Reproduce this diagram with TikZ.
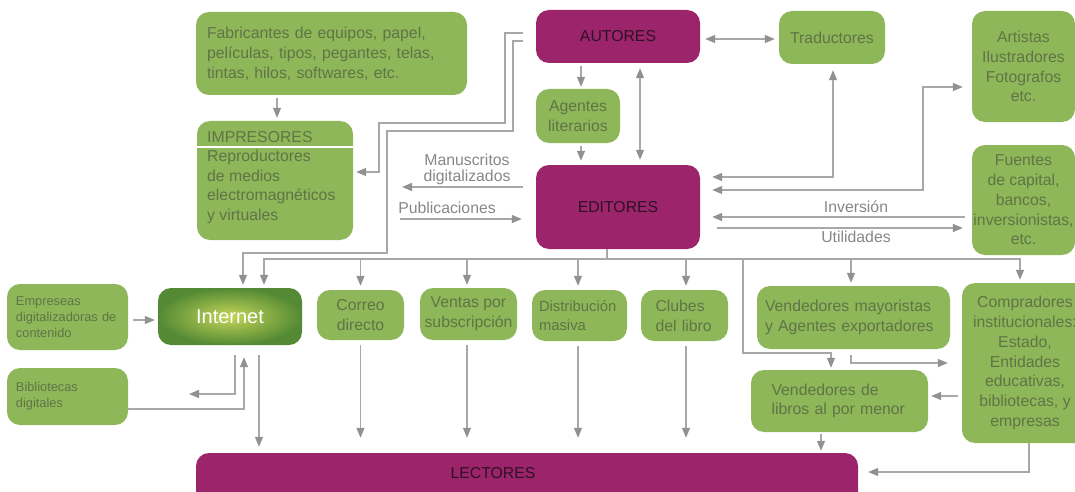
\documentclass[tikz,border=0pt]{standalone}
\usepackage{fontspec}
\setmainfont{Liberation Sans}
\usetikzlibrary{arrows.meta,calc}
\definecolor{grn}{RGB}{141,183,88}
\definecolor{pur}{RGB}{155,36,106}
\definecolor{gtxt}{RGB}{96,116,70}
\definecolor{ptxt}{RGB}{45,18,38}
\definecolor{arrc}{RGB}{168,168,168}
\definecolor{arrt}{RGB}{145,145,145}
\definecolor{lblc}{RGB}{135,135,135}
\definecolor{intin}{RGB}{196,214,88}
\definecolor{intout}{RGB}{84,138,52}
\newcommand\mainfs{\fontsize{15.8}{19.8}\selectfont}
\newcommand\smallfs{\fontsize{12.8}{15.8}\selectfont}
\begin{document}
\begin{tikzpicture}[x=1pt,y=-1pt,
 box/.style={rounded corners=13pt, inner sep=0pt, font=\mainfs, align=center},
 gbox/.style={box, fill=grn, text=gtxt},
 pbox/.style={box, fill=pur, text=ptxt},
 lbl/.style={font=\mainfs, text=lblc, inner sep=0pt, align=center},
 cline/.style={draw=arrc, line width=1.3pt},
 arr/.style={cline, -{Triangle[length=10pt,width=8pt,color=arrt]}, shorten >=4pt, shorten <=4pt},
 darr/.style={cline, {Triangle[length=10pt,width=8pt,color=arrt]}-{Triangle[length=10pt,width=8pt,color=arrt]}, shorten >=4pt, shorten <=4pt},
]
\useasboundingbox (0,0) rectangle (1075,492);
% boxes
\node[gbox, minimum width=271pt, minimum height=83pt, text width=249pt, align=left] (fab) at (331.5,53.5) {Fabricantes de equipos, papel,\\películas, tipos, pegantes, telas,\\tintas, hilos, softwares, etc.};
\node[pbox, minimum width=164pt, minimum height=53pt] (aut) at (618,36.5) {AUTORES};
\node[gbox, minimum width=106pt, minimum height=53pt] (trad) at (832,37.5) {Traductores};
\node[gbox, minimum width=103pt, minimum height=111pt] (art) at (1023.5,66.5) {Artistas\\Ilustradores\\Fotografos\\etc.};
\node[gbox, minimum width=84pt, minimum height=54pt] (age) at (578,116) {Agentes\\literarios};
\node[gbox, minimum width=156pt, minimum height=119pt] (imp) at (275,180.5) {};
\node[font=\mainfs, text=gtxt, anchor=west, inner sep=0pt] (impT) at (207,137) {IMPRESORES};
\draw[white, line width=1.3pt] (197,147) -- (353,147);
\node[font=\mainfs, text=gtxt, anchor=west, inner sep=0pt, align=left] (impD) at (207,187) {Reproductores\\de medios\\electromagnéticos\\y virtuales};
\node[pbox, minimum width=164pt, minimum height=84pt] (edi) at (618,207) {EDITORES};
\node[gbox, minimum width=103pt, minimum height=110pt] (fue) at (1023.5,200) {Fuentes\\de capital,\\bancos,\\inversionistas,\\etc.};
\node[gbox, font=\smallfs, minimum width=121pt, minimum height=66pt, text width=103pt, align=left] (emp) at (67.5,317) {Empreseas\\digitalizadoras de\\contenido};
\node[box, minimum width=144pt, minimum height=57pt, inner color=intin, outer color=intout, text=white, font=\fontsize{20}{24}\selectfont] (int) at (230,316.5) {Internet};
\node[gbox, minimum width=87pt, minimum height=50pt] (cor) at (360.5,315) {Correo\\directo};
\node[gbox, minimum width=97pt, minimum height=52pt] (ven) at (468.5,314) {Ventas por\\subscripción};
\node[gbox, minimum width=95pt, minimum height=51pt, text width=81pt, align=left, font=\fontsize{14.8}{19}\selectfont] (dis) at (579.5,315.5) {Distribución\\masiva};
\node[gbox, minimum width=87pt, minimum height=51pt, text width=58pt, align=left] (clu) at (684.5,315.5) {Clubes\\del libro};
\node[gbox, minimum width=193pt, minimum height=63pt, text width=177pt, align=left] (may) at (853.5,317.5) {Vendedores mayoristas\\y Agentes exportadores};
\node[gbox, minimum width=126pt, minimum height=160pt] (comp) at (1025,363) {Compradores\\institucionales:\\Estado,\\Entidades\\educativas,\\bibliotecas, y\\empresas};
\node[gbox, minimum width=177pt, minimum height=62pt, text width=136pt, align=left] (vlib) at (839.5,401) {Vendedores de\\libros al por menor};
\node[gbox, font=\smallfs, minimum width=121pt, minimum height=57pt, text width=103pt, align=left] (bib) at (67.5,396.5) {Bibliotecas\\digitales};
\node[pbox, minimum width=662pt, minimum height=57pt] (lec) at (527,481.5) {};
\node[font=\mainfs, text=ptxt, inner sep=0pt] (lecT) at (493,473) {LECTORES};
% labels
\node[lbl, font=\fontsize{15.8}{16}\selectfont] (manL) at (467,169) {Manuscritos\\digitalizados};
\node[lbl] (pubL) at (447,208) {Publicaciones};
\node[lbl] (invL) at (856,207) {Inversión};
\node[lbl] (utiL) at (856,237) {Utilidades};
% coordinates
\coordinate (yA) at (0,33); \coordinate (pA1) at (505,33); \coordinate (pA2) at (379,123); \coordinate (yImp) at (0,172);
\coordinate (yB) at (0,41); \coordinate (pB1) at (513,41); \coordinate (pB2) at (387,131); \coordinate (pB3) at (243,253);
\coordinate (d0) at (607,259);
\coordinate (v1) at (743,353);
\coordinate (t1) at (833,177);
\coordinate (a1) at (923,190); \coordinate (a2) at (923,87);
\coordinate (yInv) at (0,217); \coordinate (yUt) at (0,228);
\coordinate (yAT) at (0,39);
\coordinate (ag) at ([xshift=3pt]age.north);
\coordinate (ae) at ([xshift=22pt]aut.south);
\coordinate (yEI) at (0,320);
\coordinate (ib) at (189,394); \coordinate (ix) at ([xshift=5pt]int.south);
\coordinate (bi) at (244,409);
\coordinate (il) at ([xshift=29pt]int.south);
\coordinate (vl) at ([xshift=-1.5pt]ven.south);
\coordinate (dl) at ([xshift=-1.5pt]dis.south);
\coordinate (cll) at ([xshift=1.5pt]clu.south);
\coordinate (mc) at (0,363); \coordinate (ms) at ([xshift=-2.5pt]may.south);
\coordinate (cv) at (0,396);
\coordinate (vs) at ([xshift=-18.5pt]vlib.south);
\coordinate (cl) at (1029,472);
\coordinate (manE) at (402,187); \coordinate (pubS) at (400,219);
\coordinate (fi) at ([xshift=2pt]imp.north);
% connectors
\draw[arr, shorten <=3pt, shorten >=3pt] (fi |- fab.south) -- (fi);
\draw[arr, shorten <=13pt, shorten >=3pt] (aut.west |- yA) -- (pA1) |- (pA2) -- (pA2 |- yImp) -- (imp.east |- yImp);
\draw[arr, shorten <=13pt, shorten >=3pt] (aut.west |- yB) -- (pB1) |- (pB2) |- (pB3) -- (pB3 |- int.north);
\draw[cline] (edi.south -| d0) -- (d0);
\draw[arr, shorten <=0pt, shorten >=3pt] (d0) -| ([xshift=34pt]int.north);
\draw[arr, shorten <=0pt, shorten >=4pt] (d0) -| (cor.north);
\draw[arr, shorten <=0pt, shorten >=3pt] (d0) -| ([xshift=-1.5pt]ven.north);
\draw[arr, shorten <=0pt, shorten >=4pt] (d0) -| ([xshift=-1.5pt]dis.north);
\draw[arr, shorten <=0pt, shorten >=4pt] (d0) -| ([xshift=1.5pt]clu.north);
\draw[arr, shorten <=0pt, shorten >=3pt] (d0) -| ([xshift=-2.5pt]may.north);
\draw[arr, shorten <=0pt, shorten >=3pt] (d0) -| ([xshift=-5pt]comp.north);
\draw[arr, shorten <=0pt, shorten >=2pt] (d0) -| (v1) -| ([xshift=-8.5pt]vlib.north);
\draw[darr, shorten <=12pt, shorten >=6pt] (edi.east |- t1) -- (t1) -- (t1 |- trad.south);
\draw[darr, shorten <=12pt, shorten >=9pt] (edi.east |- a1) -- (a1) -- (a2) -- (a2 -| art.west);
\draw[arr, shorten <=7pt, shorten >=12pt] (fue.west |- yInv) -- (edi.east |- yInv);
\draw[arr, shorten <=17pt, shorten >=9pt] (edi.east |- yUt) -- (fue.west |- yUt);
\draw[darr, shorten <=5pt, shorten >=4pt] (aut.east |- yAT) -- (trad.west |- yAT);
\draw[arr, shorten <=3pt, shorten >=2pt] (ag |- aut.south) -- (ag);
\draw[arr, shorten <=3pt, shorten >=4pt] (ag |- age.south) -- (ag |- edi.north);
\draw[darr, shorten <=5pt, shorten >=5pt] (ae) -- (ae |- edi.north);
\draw[arr, shorten <=13pt, shorten >=0pt] (edi.west |- manE) -- (manE);
\draw[arr, shorten <=0pt, shorten >=14pt] (pubS) -- (edi.west |- pubS);
\draw[arr, shorten <=5pt, shorten >=3pt] (emp.east |- yEI) -- (int.west |- yEI);
\draw[arr, shorten <=10pt, shorten >=0pt] (ix) |- (ib);
\draw[arr, shorten <=0pt, shorten >=12pt] (bib.east |- bi) -| (bi |- int.south);
\draw[arr, shorten <=10pt, shorten >=6pt] (il) -- (il |- lec.north);
\draw[arr, shorten <=5pt, shorten >=15pt] (cor.south) -- (cor.south |- lec.north);
\draw[arr, shorten <=5pt, shorten >=15pt] (vl) -- (vl |- lec.north);
\draw[arr, shorten <=5pt, shorten >=15pt] (dl) -- (dl |- lec.north);
\draw[arr, shorten <=5pt, shorten >=15pt] (cll) -- (cll |- lec.north);
\draw[arr, shorten <=6pt, shorten >=14pt] (ms) |- (comp.west |- mc);
\draw[arr, shorten <=4pt, shorten >=3pt] (comp.west |- cv) -- (vlib.east |- cv);
\draw[arr, shorten <=2pt, shorten >=2pt] (vs) -- (vs |- lec.north);
\draw[arr, shorten <=0pt, shorten >=10pt] (comp.south -| cl) |- (lec.east |- cl);
\end{tikzpicture}
\end{document}
